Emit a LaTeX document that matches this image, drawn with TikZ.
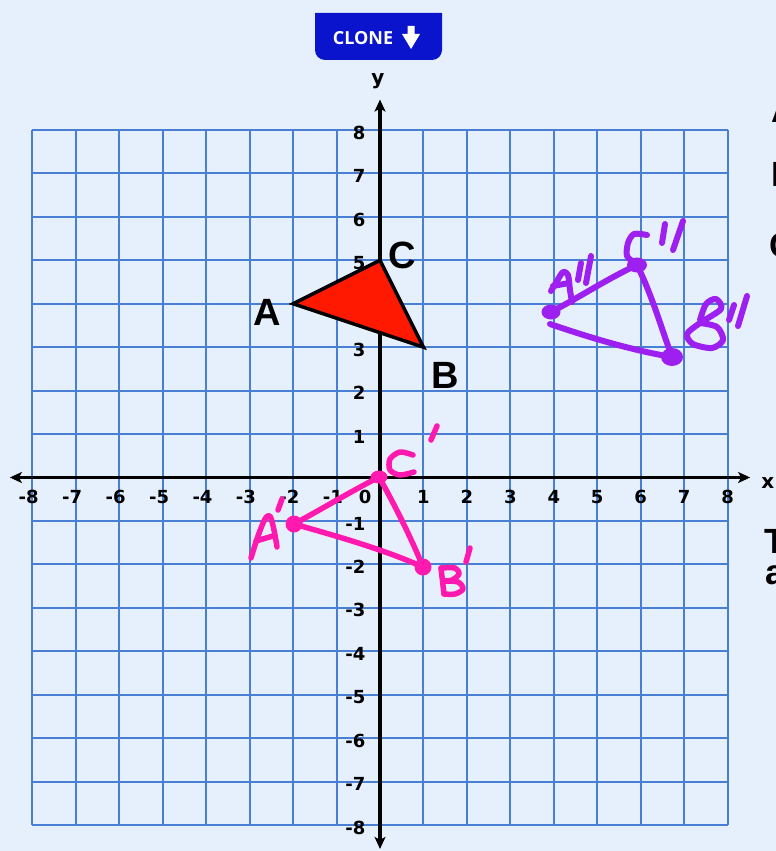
\documentclass[tikz,border=0pt]{standalone}
\usepackage{fontspec}
\setmainfont{Liberation Sans}
\newfontfamily\numfont{DejaVu Sans}
\newfontfamily\btnfont{Open Sans}
\usetikzlibrary{arrows.meta}
\definecolor{bg}{RGB}{230,240,253}
\definecolor{gridc}{RGB}{72,126,212}
\definecolor{btnc}{RGB}{10,20,205}
\definecolor{tric}{RGB}{255,25,0}
\definecolor{pinkc}{RGB}{255,25,175}
\definecolor{purpc}{RGB}{158,32,240}
\tikzset{
  axisline/.style={line width=3.5pt, {Stealth[length=12pt,width=11pt,inset=3pt]}-{Stealth[length=12pt,width=11pt,inset=3pt]}},
  numlab/.style={font=\numfont\bfseries\fontsize{18}{18}\selectfont, inner sep=0pt},
  biglab/.style={font=\bfseries\fontsize{38}{38}\selectfont, inner sep=0pt},
  edgelab/.style={font=\bfseries\fontsize{35}{35}\selectfont, inner sep=0pt, anchor=base west},
  gridline/.style={draw=gridc, line width=2pt},
  pinkpen/.style={draw=pinkc, line width=5.5pt, line cap=round, line join=round},
  purppen/.style={draw=purpc, line width=6pt, line cap=round, line join=round},
}
\begin{document}
\begin{tikzpicture}[x=1pt,y=-1pt]
\fill[bg] (0,0) rectangle (776,851);
\useasboundingbox (0,0) rectangle (776,851);

% CLONE button
\fill[btnc] (315,13) -- (442,13) -- (442,50) arc[start angle=0,end angle=90,radius=10]
  -- (325,60) arc[start angle=90,end angle=180,radius=10] -- cycle;
\node[font=\btnfont\bfseries\fontsize{18}{18}\selectfont, text=white, inner sep=0pt] (clone) at (363,38.5) {CLONE};
\fill[white] (407.5,26) -- (414.5,26) -- (414.5,34) -- (420,34) -- (411,49) -- (402,34) -- (407.5,34) -- cycle;

% right edge text fragments
\node[edgelab] (r1) at (771,122) {A};
\node[edgelab] (r2) at (771,186) {B};
\node[edgelab] (r3) at (769,257) {C};
\node[edgelab] (r4) at (764,553) {T};
\node[edgelab] (r5) at (765,584) {a};

\begin{scope}[shift={(380,477.5)}, x=43.44pt, y=43.44pt]
  \foreach \k in {-8,...,8} {
    \draw[gridline] (\k,-8) -- (\k,8);
    \draw[gridline] (-8,\k) -- (8,\k);
  }
  \draw[axisline] (-8.52,0) -- (8.52,0);
  \draw[axisline] (0,-8.55) -- (0,8.7);
  \node[numlab, font=\numfont\bfseries\fontsize{20}{20}\selectfont] (xl) at (8.93,-0.13) {x};
  \node[numlab, font=\numfont\bfseries\fontsize{20}{20}\selectfont] (yl) at (-0.05,9.13) {y};
  \foreach \i in {1,...,8} {
    \node[numlab] (xp\i) at (\i,-0.45) {\i};
    \node[numlab] (xn\i) at (-\i,-0.45) {\llap{-}\i};
    \node[numlab, anchor=east] (yp\i) at (-0.33,\i-0.06) {\i};
    \node[numlab, anchor=east] (yn\i) at (-0.33,-\i-0.06) {-\i};
  }
  \node[numlab] (x0) at (-0.345,-0.45) {0};

  % original triangle
  \coordinate (A) at (-2,4);
  \coordinate (B) at (1,3);
  \coordinate (C) at (0,5);
  \filldraw[fill=tric, draw=black, line width=3.5pt, line join=miter] (A) -- (B) -- (C) -- cycle;
  \node[biglab] (lA) at (-2.6,3.8) {A};
  \node[biglab] (lB) at (1.5,2.36) {B};
  \node[biglab] (lC) at (0.52,5.12) {C};
\end{scope}

% pink image A'B'C'
\coordinate (Cp) at (379,477);
\coordinate (Ap) at (294,524);
\coordinate (Bp) at (423,567);
\draw[pinkpen] (Cp) .. controls (350,492) and (320,510) .. (Ap);
\draw[pinkpen] (Ap) .. controls (340,537) and (385,550) .. (Bp);
\draw[pinkpen] (Cp) .. controls (392,500) and (410,535) .. (Bp);
\fill[pinkc] (Cp) ellipse[x radius=8.5pt, y radius=6.5pt];
\fill[pinkc] (Ap) circle[radius=8.5pt];
\fill[pinkc] (Bp) circle[radius=8.5pt];
% A'
\draw[pinkpen] plot[smooth] coordinates {(251,558) (258,536) (265,519) (270,516) (274,530) (277,547)};
\draw[pinkpen] (256,541) -- (273,536);
\draw[pinkpen] (282,499) -- (278,510);
% C'
\draw[pinkpen] plot[smooth] coordinates {(413,455) (400,452) (390,459) (390,470) (400,475) (414,472)};
\draw[pinkpen] (437,426) -- (431,440);
% B'
\draw[pinkpen] (441,568) -- (444,594);
\draw[pinkpen] plot[smooth] coordinates {(441,568) (455,568) (459,574) (452,580) (443,581)};
\draw[pinkpen] plot[smooth] coordinates {(443,581) (458,582) (463,589) (455,594) (444,594)};
\draw[pinkpen] (470,548) -- (466,562);

% purple image A''B''C''
\coordinate (App) at (551,312);
\coordinate (Cpp) at (637,265);
\coordinate (Bpp) at (672,357);
\coordinate (Aend) at (550,324);
\draw[purppen] (App) .. controls (580,297) and (605,280) .. (Cpp);
\draw[purppen] (Cpp) .. controls (652,295) and (662,330) .. (Bpp);
\draw[purppen] (Bpp) .. controls (630,350) and (585,336) .. (Aend);
\fill[purpc] (App) ellipse[x radius=9.5pt, y radius=7.5pt];
\fill[purpc] (Cpp) ellipse[x radius=10pt, y radius=7.5pt];
\fill[purpc] (Bpp) ellipse[x radius=11pt, y radius=9pt];
% A''
\draw[purppen] plot[smooth] coordinates {(551,291) (557,281) (563,272) (568,275) (570,290) (572,302)};
\draw[purppen] (553,286) -- (569,283);
\draw[purppen] (581,263) -- (578,280);
\draw[purppen] (591,256) -- (586,283);
% C''
\draw[purppen] plot[smooth] coordinates {(647,235) (634,234) (628,243) (627,256) (635,263)};
\draw[purppen] (665,224) -- (662,243);
\draw[purppen] (683,221) -- (673,250);
% B''
\draw[purppen] plot[smooth] coordinates {(700,320) (706,304) (716,299) (721,309) (700,323) (687,334) (693,344) (712,348) (723,340) (717,327) (700,323)};
\draw[purppen] (734,305) -- (729,320);
\draw[purppen] (747,296) -- (738,326);
\end{tikzpicture}
\end{document}
